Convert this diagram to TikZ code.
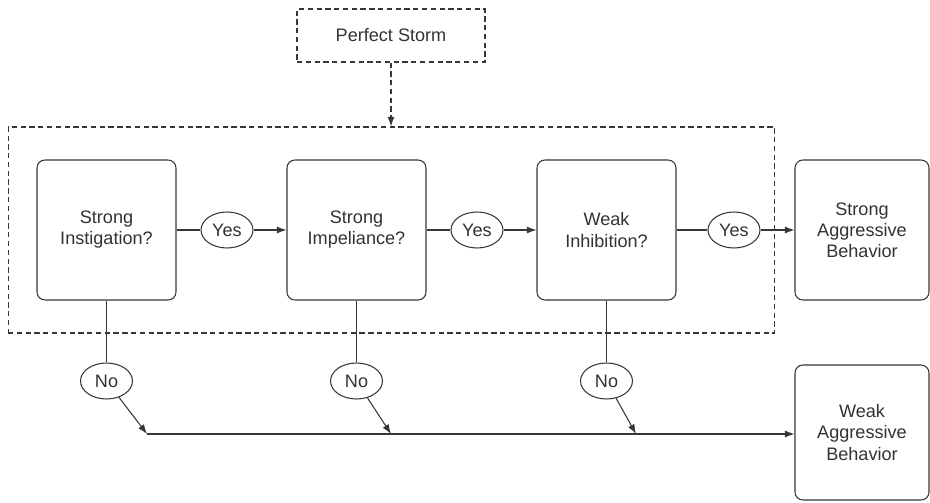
\documentclass[tikz,border=0pt]{standalone}
\usepackage{fontspec}
\setmainfont{Liberation Sans}
\definecolor{InkGray}{RGB}{55, 55, 55}
\definecolor{TextGray}{RGB}{50, 50, 50}
\usetikzlibrary{shapes,arrows.meta,positioning,calc}

\begin{document}
\begin{tikzpicture}[x=0.02cm, y=-0.02cm, line width=0.6pt, draw=InkGray,
    font=\fontsize{10.3}{12}\selectfont,
    every node/.style={text=TextGray, align=center},
    box/.style={draw=InkGray, rounded corners=4.5pt, minimum width=2.78cm, minimum height=2.8cm},
    answer/.style={draw=InkGray, ellipse, inner sep=0pt, minimum width=1.04cm, minimum height=0.72cm},
    dashline/.style={draw=InkGray, dash pattern=on 3pt off 2pt},
    arr/.style={-{Latex[length=5.5pt,width=4pt]}}]
  \useasboundingbox (0,0) rectangle (930,503);

  % perfect storm frame
  \node[dashline, minimum width=3.76cm, minimum height=1.06cm] (storm) at (391,35.5) {Perfect Storm};
  \node[dashline, minimum width=15.34cm, minimum height=4.12cm] (zone) at (391.5,230) {};

  % the three questions
  \foreach \name/\txt/\xpos in {q1/{Strong\\Instigation?}/106.5, q2/{Strong\\Impeliance?}/356.5, q3/{Weak\\Inhibition?}/606.5} {
    \node[box] (\name) at (\xpos,230) {\txt};
  }
  \foreach \name/\xpos in {y1/227, y2/477, y3/734} {
    \node[answer] (\name) at (\xpos,230) {Yes};
  }
  \foreach \name/\xpos in {n1/106.5, n2/356.5, n3/606.5} {
    \node[answer] (\name) at (\xpos,381) {No};
  }

  % outcomes
  \node[box, minimum width=2.68cm] (strong) at (862,230) {Strong\\Aggressive\\Behavior};
  \node[box, minimum width=2.68cm, minimum height=2.7cm] (weak) at (862,432.5) {Weak\\Aggressive\\Behavior};

  \coordinate (j1) at (147,434);
  \coordinate (j2) at (391,434);
  \coordinate (j3) at (636,434);

  \draw[dashline, arr] (storm) -- (storm.south |- zone.north);
  \draw (q1) -- (y1);
  \draw[arr] (y1) -- (q2);
  \draw (q2) -- (y2);
  \draw[arr] (y2) -- (q3);
  \draw (q3) -- (y3);
  \draw[arr] (y3) -- (strong);
  \draw (q1) -- (n1);
  \draw (q2) -- (n2);
  \draw (q3) -- (n3);
  \draw[arr] (n1) -- (j1);
  \draw[arr] (n2) -- (j2);
  \draw[arr] (n3) -- (j3);
  \draw[arr] (j1) -- (j1 -| weak.west);
\end{tikzpicture}
\end{document}
